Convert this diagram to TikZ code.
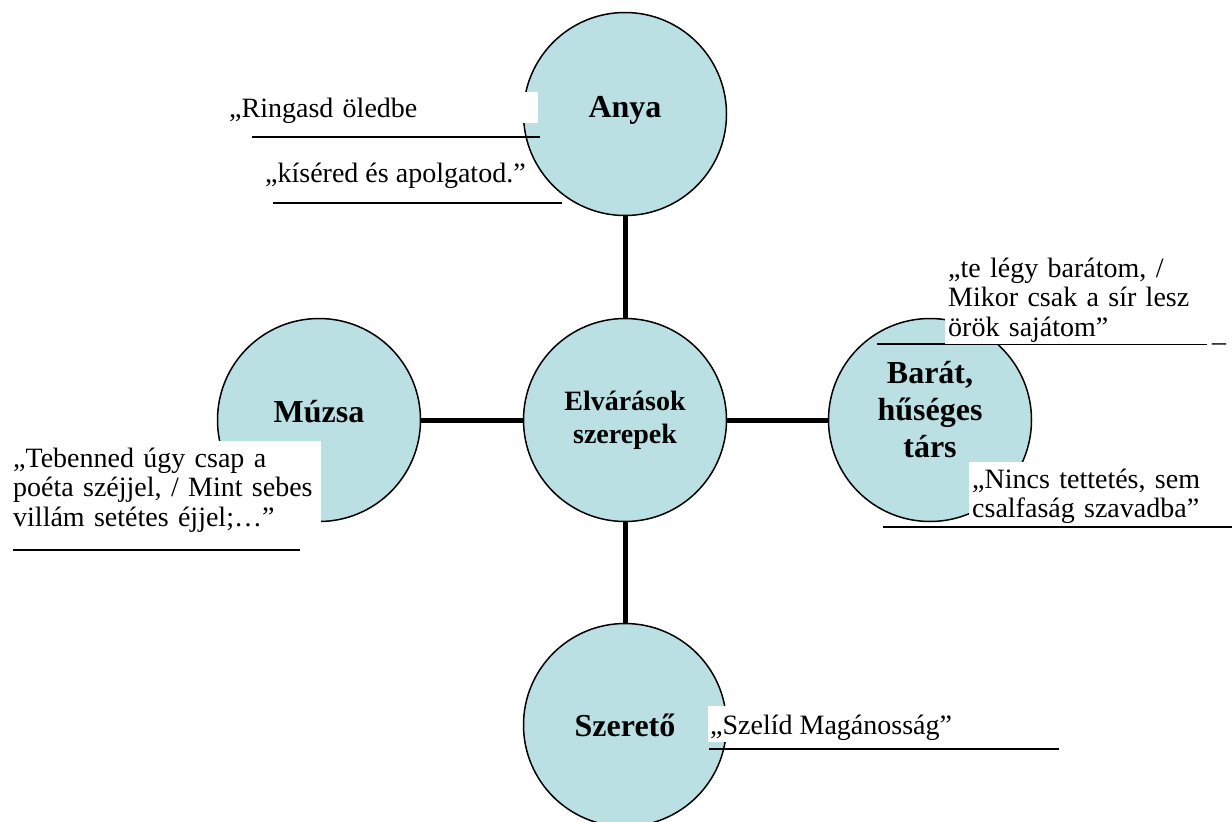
\documentclass[tikz,border=0pt]{standalone}
\usepackage{fontspec}
\setmainfont{Liberation Serif}
\usepackage{tikz}
\usepackage{xcolor}
\definecolor{rolefill}{RGB}{187,224,227}

\begin{document}
\begin{tikzpicture}[x=1pt, y=-1pt,
	role/.style={circle, draw, line width=1.5pt, fill=rolefill, minimum size=203pt, inner sep=0pt, align=center, font=\bfseries\fontsize{32}{37}\selectfont},
	link/.style={line width=5pt},
	quote/.style={fill=white, anchor=base west, inner ysep=0pt, align=left, font=\fontsize{28}{29.5}\selectfont},
	quoterule/.style={line width=1.5pt}]
	
	\useasboundingbox (0,0) rectangle (1232,822);
	
	% roles
	\node [role] (anya) at (625,114) {Anya\rule[-14pt]{0pt}{0pt}};
	\node [role, font=\bfseries\fontsize{28}{33}\selectfont] (center) at (625,420) {Elvárások\\szerepek};
	\node [role] (muzsa) at (319,420) {Múzsa\rule[-18pt]{0pt}{0pt}};
	\node [role] (barat) at (930,420) {Barát,\\hűséges\\társ\rule[-22pt]{0pt}{0pt}};
	\node [role] (szereto) at (625,725) {Szerető};
	
	% links to the middle
	\draw [link] (anya) -- (center);
	\draw [link] (muzsa) -- (center);
	\draw [link] (center) -- (barat);
	\draw [link] (center) -- (szereto);
	
	% rules under the quotes
	\draw [quoterule] (252,137) -- (540,137);
	\draw [quoterule] (273,203) -- (562,203);
	\draw [quoterule] (877,344) -- (1207,344);
	\draw [quoterule] (883,527) -- (1232,527);
	\draw [quoterule] (13,550) -- (300,550);
	\draw [quoterule] (709,749) -- (1059,749);
	
	% quotes of Anya
	\node [quote, inner xsep=4pt, text width=305pt, text height=25pt, text depth=6pt] (ringasd) at (225,117) {„Ringasd öledbe};
	\node [quote, inner xsep=4pt, text height=24pt, text depth=8pt] (kisered) at (261,182) {„kíséred és apolgatod.”};
	
	% quotes of Barát
	\node [quote, inner xsep=3pt, text width=260pt, text height=26pt, text depth=67pt] (legy) at (945,277) {„te légy barátom, /\\Mikor csak a sír lesz\\örök sajátom”};
	\node [quote, inner xsep=0pt, text height=0pt, text depth=0pt] (vonal) at (1212,341) {\_};
	\node [quote, inner xsep=3pt, text width=257pt, text height=26pt, text depth=38pt] (nincs) at (969,488) {„Nincs tettetés, sem\\csalfaság szavadba”};
	
	% quote of Múzsa
	\node [quote, inner xsep=7pt, text width=301pt, text height=26pt, text depth=65pt] (tebenned) at (6,467) {„Tebenned úgy csap a\\poéta széjjel, / Mint sebes\\villám setétes éjjel;…”};
	
	% quote of Szerető
	\node [quote, inner xsep=2pt, text height=28pt, text depth=8pt] (szelid) at (708,734) {„Szelíd Magánosság”};
	
\end{tikzpicture}
\end{document}
